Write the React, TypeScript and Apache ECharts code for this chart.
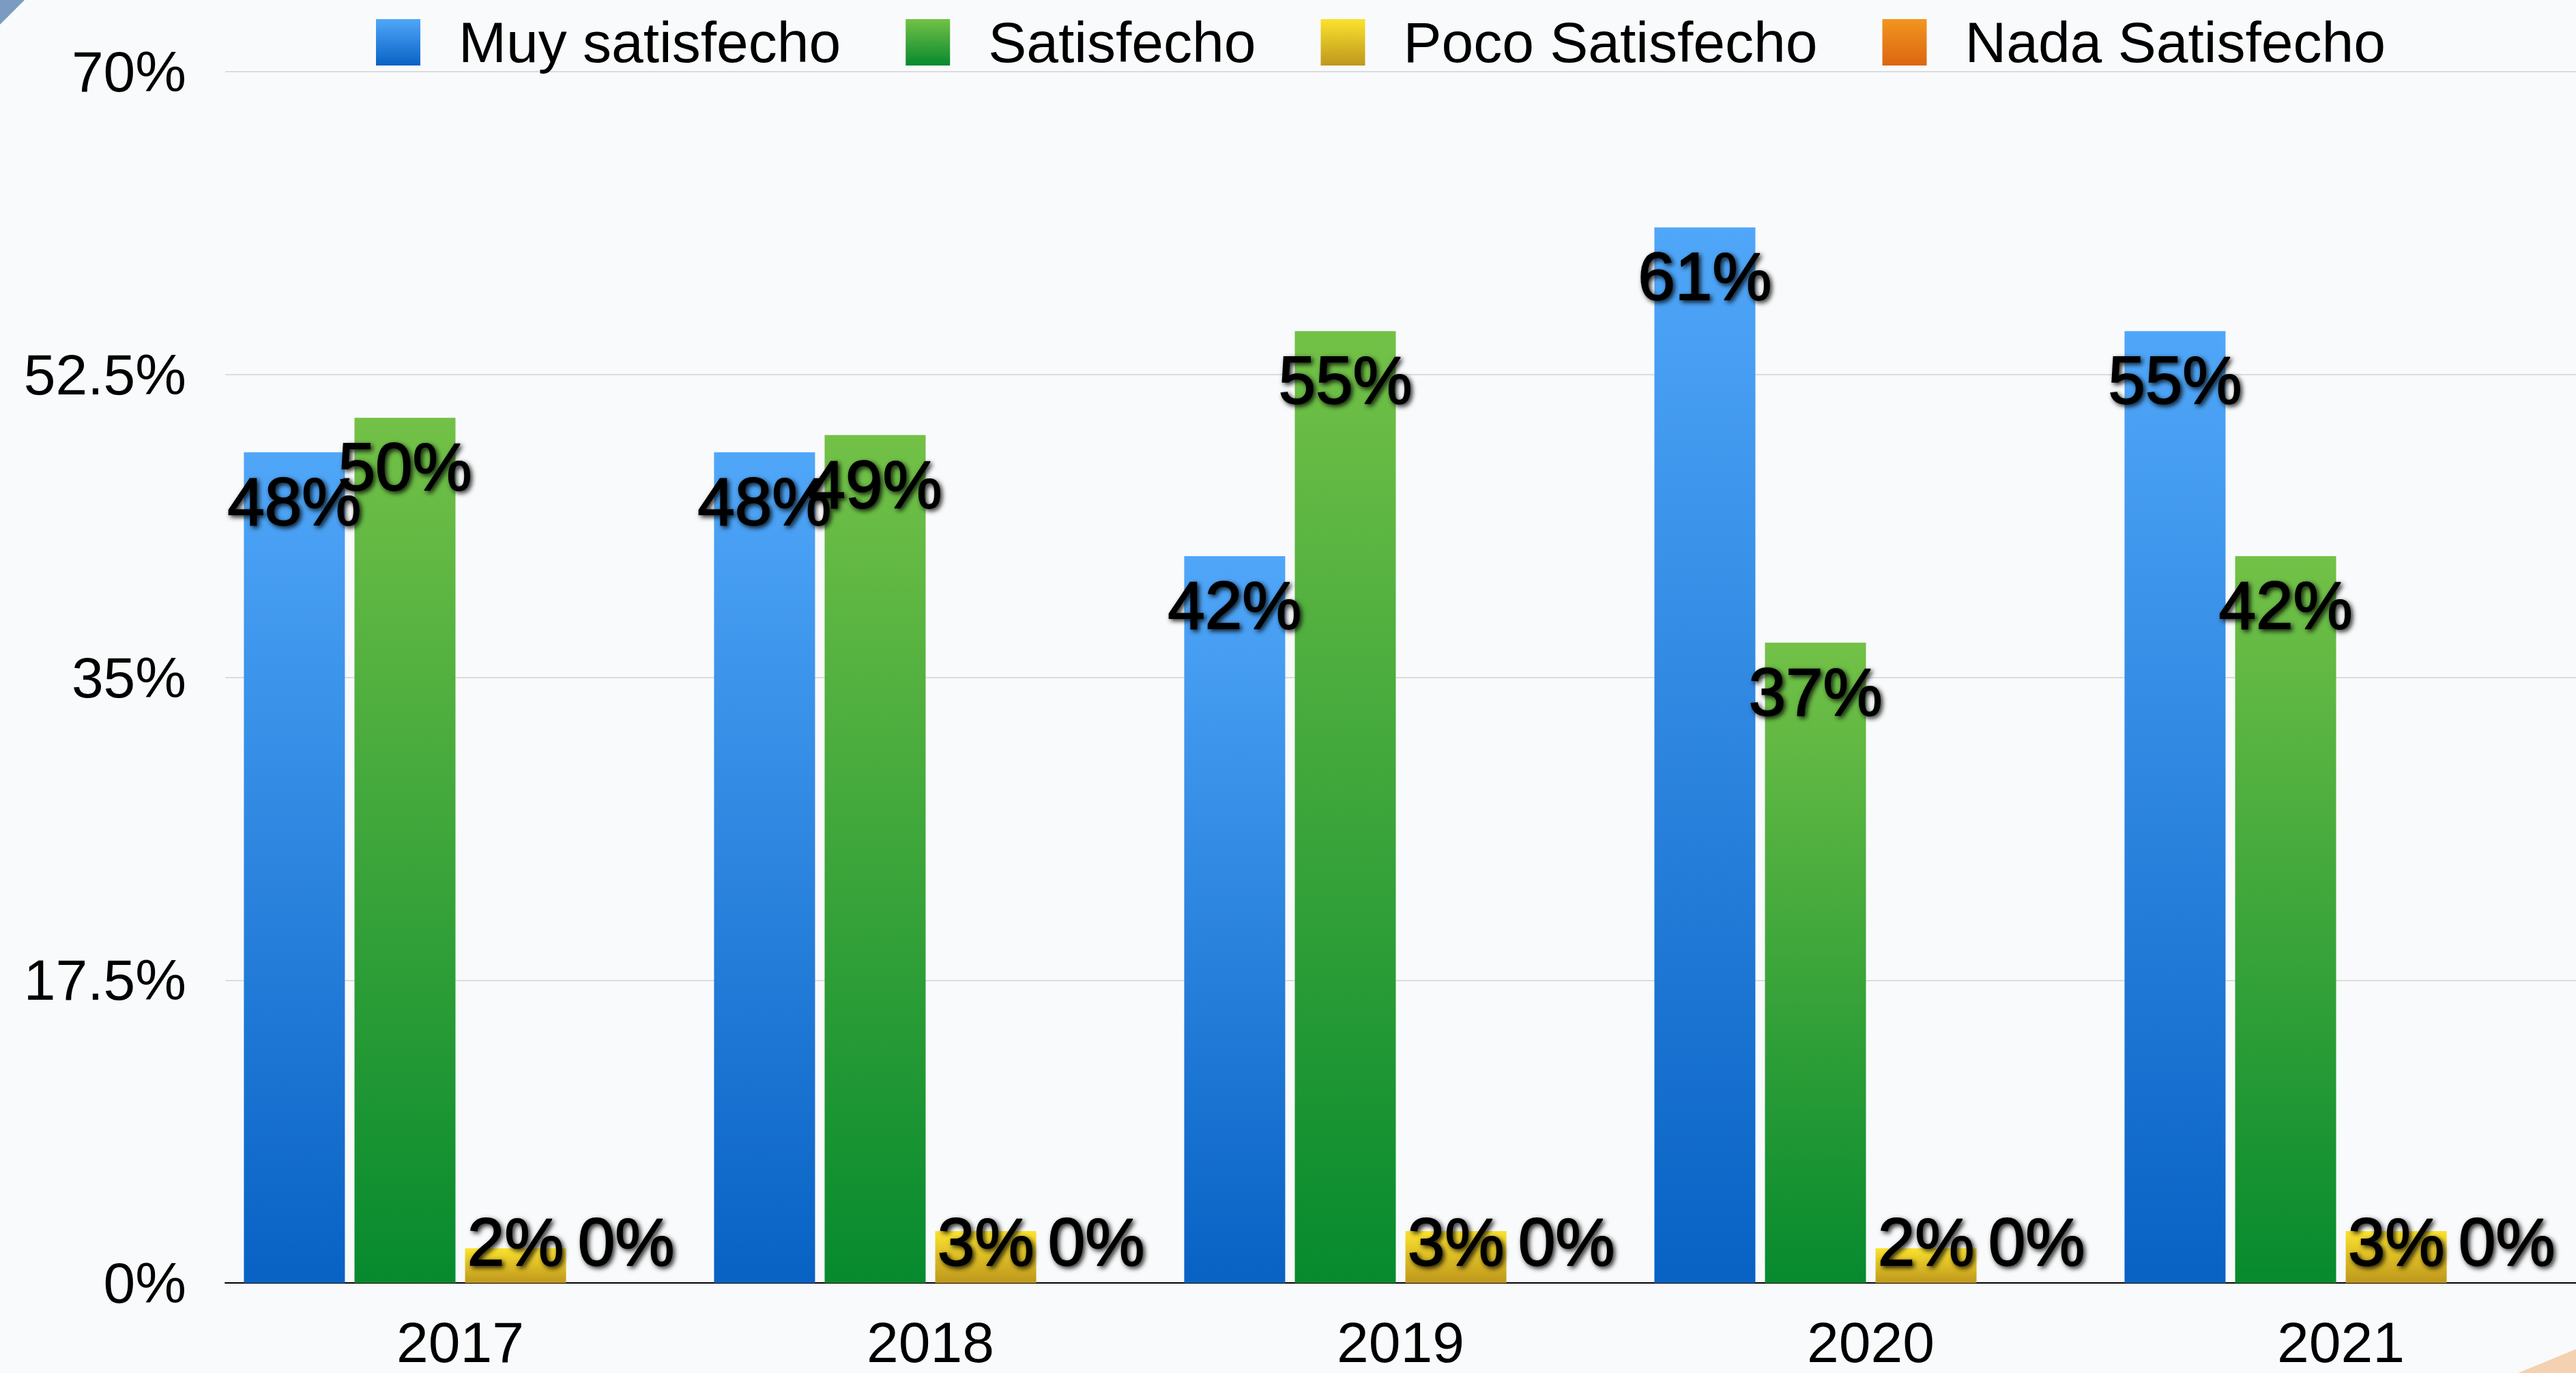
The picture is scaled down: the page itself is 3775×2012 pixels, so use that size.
import React, { useEffect, useRef } from "react";
import * as echarts from "echarts";

const categories = ["2017", "2018", "2019", "2020", "2021"];
const seriesNames = ["Muy satisfecho", "Satisfecho", "Poco Satisfecho", "Nada Satisfecho"];
const muySatisfecho = [48, 48, 42, 61, 55];
const satisfecho = [50, 49, 55, 37, 42];
const pocoSatisfecho = [2, 3, 3, 2, 3];
const nadaSatisfecho = [0, 0, 0, 0, 0];
const yTicks = [0, 17.5, 35, 52.5, 70];

const gradients: [string, string][] = [
  ["#50A7F9", "#0862C4"],
  ["#73C147", "#068A2E"],
  ["#FBE22E", "#BE971C"],
  ["#F1961F", "#DC6511"],
];

const FONT = "'Liberation Sans', Arial, Helvetica, sans-serif";

function grad(top: string, bottom: string) {
  return new echarts.graphic.LinearGradient(0, 0, 0, 1, [
    { offset: 0, color: top },
    { offset: 1, color: bottom },
  ]);
}

const labelBase = {
  show: true,
  color: "#000",
  fontFamily: FONT,
  fontSize: 98,
  align: "center",
  verticalAlign: "middle",
  textShadowColor: "rgba(0,0,0,0.85)",
  textShadowBlur: 7,
  textShadowOffsetX: 3,
  textShadowOffsetY: 3,
  textBorderColor: "#000",
  textBorderWidth: 1.8,
  formatter: (p: any) => `${p.value}%`,
};

function buildData(values: number[]) {
  return values.map((v) => {
    if (v <= 5) {
      return { value: v, label: { position: ["50%", "100%"], offset: [0, -60] } };
    }
    return { value: v, label: { position: ["50%", 0], offset: [0, 72] } };
  });
}

export default function App() {
  const ref = useRef<HTMLDivElement>(null);
  useEffect(() => {
    document.body.style.margin = "0";
    const chart = echarts.init(ref.current!, undefined, { renderer: "svg" });
    const all = [muySatisfecho, satisfecho, pocoSatisfecho, nadaSatisfecho];
    chart.setOption({
      animation: false,
      backgroundColor: "#F9FAFB",
      textStyle: { fontFamily: FONT },
      graphic: [
        {
          type: "polygon",
          silent: true,
          z: -10,
          shape: { points: [[0, 0], [36, 0], [0, 36]] },
          style: { fill: "#7B9BC3" },
        },
        {
          type: "polygon",
          silent: true,
          z: -10,
          shape: { points: [[3690, 2012], [3775, 1977], [3775, 2012]] },
          style: { fill: "#F3D1B1" },
        },
      ],
      legend: {
        left: 551,
        top: 20,
        padding: 0,
        itemWidth: 65,
        itemHeight: 68,
        itemGap: 95,
        icon: "rect",
        textStyle: { fontSize: 84, color: "#000", fontFamily: FONT, padding: [0, 0, 0, 51] },
        data: seriesNames,
      },
      grid: { left: 330, right: 0, top: 105, bottom: 132, containLabel: false },
      xAxis: {
        type: "category",
        data: categories,
        axisLine: { show: true, lineStyle: { color: "#000", width: 2 } },
        axisTick: { show: false },
        axisLabel: { color: "#000", fontSize: 84, lineHeight: 70, fontFamily: FONT, margin: 52 },
      },
      yAxis: {
        type: "value",
        min: yTicks[0],
        max: yTicks[yTicks.length - 1],
        interval: yTicks[1] - yTicks[0],
        axisLine: { show: false },
        axisTick: { show: false },
        splitLine: { show: true, lineStyle: { color: "#D2D2D2", width: 1.5 } },
        axisLabel: {
          color: "#000",
          fontSize: 84,
          fontFamily: FONT,
          margin: 57,
          formatter: (v: number) => `${v}%`,
        },
      },
      series: all.map((vals, i) => ({
        name: seriesNames[i],
        type: "bar",
        barWidth: 148,
        barGap: "9.5%",
        itemStyle: { color: grad(gradients[i][0], gradients[i][1]) },
        label: labelBase,
        data: buildData(vals),
      })),
    });
    return () => chart.dispose();
  }, []);
  return <div ref={ref} style={{ width: 3775, height: 2012 }} />;
}
